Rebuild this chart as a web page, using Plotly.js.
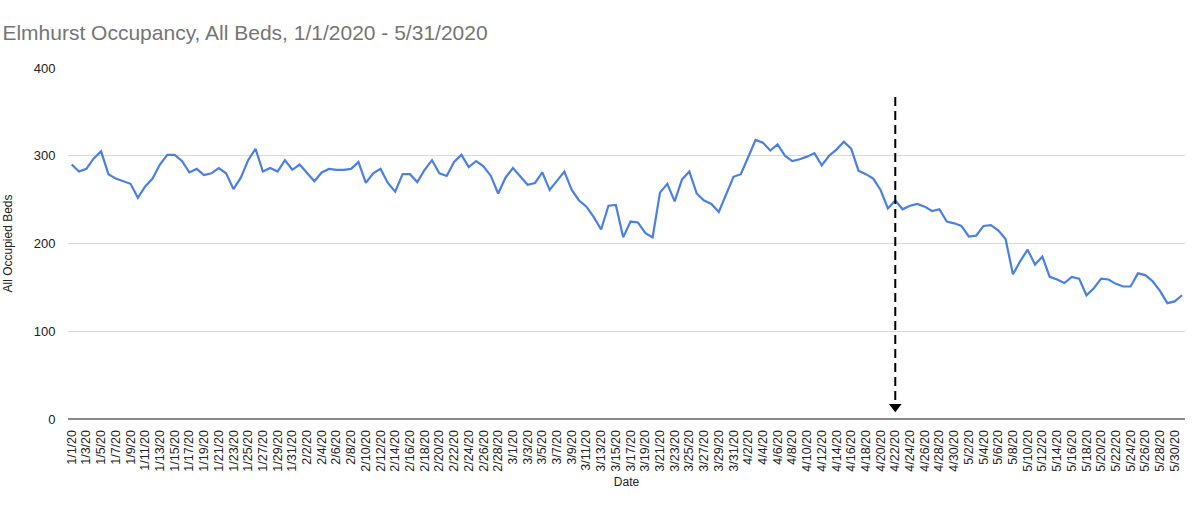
<!DOCTYPE html>
<html>
<head>
<meta charset="utf-8">
<script src="https://cdn.plot.ly/plotly-3.0.1.min.js"></script>
<style>html,body{margin:0;padding:0;background:#fff;}#chart{width:1200px;height:514px;}</style>
</head>
<body>
<div id="chart"></div>
<script>
// Dates 1/1/20 .. 5/31/20
const monthDays = [31, 29, 31, 30, 31];
const dates = [];
monthDays.forEach((n, m) => { for (let d = 1; d <= n; d++) dates.push((m + 1) + '/' + d + '/20'); });

const occupiedBeds = [
  290, 282, 285, 297, 305, 279, 274, 271, 268, 252, 265, 274, 290, 301, 301, 294, 281, 285, 278, 280,
  286, 280, 262, 275, 295, 308, 282, 286, 282, 295, 284, 290, 281, 271, 281, 285, 284, 284, 285, 293,
  269, 280, 285, 269, 259, 279, 279, 270, 284, 295, 280, 277, 293, 301, 287, 294, 288, 277, 257, 275,
  286, 276, 267, 269, 281, 261, 271, 282, 261, 249, 242, 230, 216, 243, 244, 207, 225, 224, 212, 207,
  258, 268, 248, 273, 282, 257, 249, 245, 236, 257, 276, 279, 299, 318, 315, 306, 313, 300, 294, 296,
  299, 303, 289, 300, 307, 316, 308, 283, 279, 274, 261, 240, 249, 239, 243, 245, 242, 237, 239, 225,
  223, 220, 208, 209, 220, 221, 215, 205, 165, 180, 193, 176, 185, 162, 159, 155, 162, 160, 141, 149,
  160, 159, 154, 151, 151, 166, 164, 157, 146, 132, 134, 141
];

const tickLabels = dates.filter((d, i) => i % 2 === 0);
const yTicks = [0, 100, 200, 300, 400];

const markerDate = '4/22/20';
const markerTop = 367;
const markerBottom = 20;
const markerHead = 14;

const font = 'Liberation Sans, Arial, sans-serif';

const traces = [
  {
    x: dates, y: occupiedBeds, type: 'scatter', mode: 'lines',
    line: {color: '#4a7fe3', width: 2.2}, hoverinfo: 'x+y', showlegend: false
  },
  {
    x: [markerDate], y: [markerHead], type: 'scatter', mode: 'markers',
    marker: {symbol: 'triangle-down', size: 11, color: '#000'}, showlegend: false, hoverinfo: 'skip'
  }
];

const layout = {
  width: 1200, height: 514,
  margin: {l: 68, r: 15, t: 68, b: 95},
  paper_bgcolor: '#fff', plot_bgcolor: '#fff',
  font: {family: font, color: '#222', size: 12},
  title: {
    text: 'Elmhurst Occupancy, All Beds, 1/1/2020 - 5/31/2020',
    font: {family: font, size: 21, color: '#757575'},
    xref: 'container', x: 0.002, xanchor: 'left',
    yref: 'container', y: 0.936, yanchor: 'middle'
  },
  xaxis: {
    type: 'category', categoryorder: 'array', categoryarray: dates,
    range: [-0.5, 151.4],
    tickmode: 'array', tickvals: tickLabels, ticktext: tickLabels,
    tickangle: -90, tickfont: {size: 12.5, color: '#222'},
    ticks: 'outside', ticklen: 5, tickcolor: 'rgba(0,0,0,0)',
    showgrid: false, showline: false, zeroline: false,
    title: {text: 'Date', font: {size: 12, color: '#222'}, standoff: 6},
    automargin: false
  },
  yaxis: {
    range: [0, 400], tickvals: yTicks, ticktext: yTicks.map(String),
    tickfont: {size: 13, color: '#222'},
    ticks: 'outside', ticklen: 9, tickcolor: 'rgba(0,0,0,0)',
    showgrid: true, gridcolor: '#d9d9d9', gridwidth: 1,
    zeroline: true, zerolinecolor: '#888', zerolinewidth: 1.2,
    showline: false,
    title: {text: 'All Occupied Beds', font: {size: 12, color: '#222'}, standoff: 18},
    automargin: false
  },
  shapes: [{
    type: 'line', xref: 'x', yref: 'y',
    x0: markerDate, x1: markerDate, y0: markerTop, y1: markerBottom,
    line: {color: '#000', width: 2, dash: '9px,5px'}
  }]
};

Plotly.newPlot('chart', traces, layout, {displayModeBar: false, staticPlot: true});
</script>
</body>
</html>
